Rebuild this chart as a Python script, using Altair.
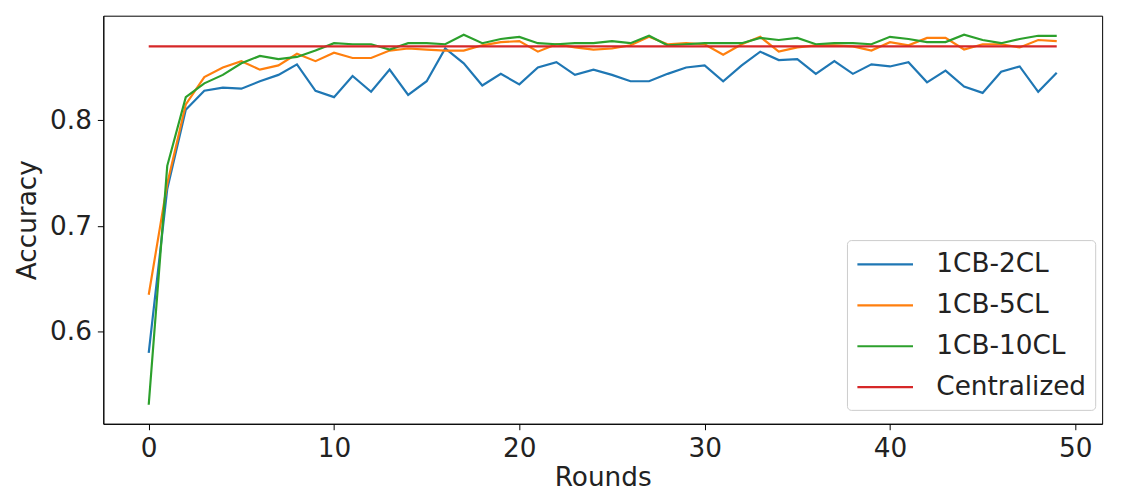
import altair as alt
import pandas as pd

rounds = list(range(50))

cb_2cl = [0.580, 0.735, 0.810, 0.828, 0.831, 0.830, 0.837, 0.843, 0.853, 0.828,
          0.822, 0.842, 0.827, 0.848, 0.824, 0.837, 0.868, 0.854, 0.833, 0.844,
          0.834, 0.850, 0.855, 0.843, 0.848, 0.843, 0.837, 0.837, 0.844, 0.850,
          0.852, 0.837, 0.852, 0.865, 0.857, 0.858, 0.844, 0.856, 0.844, 0.853,
          0.851, 0.855, 0.836, 0.847, 0.832, 0.826, 0.846, 0.851, 0.827, 0.845]

cb_5cl = [0.635, 0.740, 0.815, 0.841, 0.850, 0.856, 0.848, 0.852, 0.863, 0.856,
          0.864, 0.859, 0.859, 0.866, 0.868, 0.867, 0.866, 0.866, 0.871, 0.874,
          0.875, 0.865, 0.872, 0.869, 0.867, 0.868, 0.871, 0.879, 0.872, 0.873,
          0.872, 0.862, 0.872, 0.879, 0.865, 0.869, 0.871, 0.871, 0.870, 0.866,
          0.874, 0.871, 0.878, 0.878, 0.867, 0.872, 0.872, 0.869, 0.876, 0.875]

cb_10cl = [0.531, 0.757, 0.822, 0.835, 0.843, 0.854, 0.861, 0.858, 0.860, 0.866,
           0.873, 0.872, 0.872, 0.867, 0.873, 0.873, 0.872, 0.881, 0.873, 0.877,
           0.879, 0.873, 0.872, 0.873, 0.873, 0.875, 0.873, 0.880, 0.871, 0.872,
           0.873, 0.873, 0.873, 0.878, 0.876, 0.878, 0.872, 0.873, 0.873, 0.872,
           0.879, 0.877, 0.874, 0.874, 0.881, 0.876, 0.873, 0.877, 0.880, 0.880]

centralized_value = 0.870
centralized = [centralized_value for _ in rounds]

series_names = ["1CB-2CL", "1CB-5CL", "1CB-10CL", "Centralized"]
series_colors = ["#1f77b4", "#ff7f0e", "#2ca02c", "#d62728"]
series_values = [cb_2cl, cb_5cl, cb_10cl, centralized]

rows = []
for order, (name, vals) in enumerate(zip(series_names, series_values)):
    for r, v in zip(rounds, vals):
        rows.append({"Rounds": r, "Accuracy": v, "Series": name, "order": order})
df = pd.DataFrame(rows)

FONT = "DejaVu Sans"
FS = 26.5

chart = alt.Chart(df).mark_line(strokeWidth=2.2, clip=True).encode(
    x=alt.X("Rounds:Q",
            scale=alt.Scale(domain=[-2.45, 51.45], nice=False, zero=False),
            axis=alt.Axis(values=[0, 10, 20, 30, 40, 50], title="Rounds",
                          titlePadding=3)),
    y=alt.Y("Accuracy:Q",
            scale=alt.Scale(domain=[0.513, 0.899], nice=False, zero=False),
            axis=alt.Axis(values=[0.6, 0.7, 0.8], format=".1f", title="Accuracy",
                          titlePadding=8)),
    color=alt.Color("Series:N",
                    scale=alt.Scale(domain=series_names, range=series_colors),
                    legend=alt.Legend(title=None, orient="none",
                                      legendX=749, legendY=226,
                                      symbolType="M-2,0L2,0", symbolSize=784,
                                      symbolStrokeWidth=2.2, symbolOffset=14,
                                      labelFontSize=FS, labelFont=FONT,
                                      labelColor="#222", labelOffset=36,
                                      rowPadding=12.2, padding=9,
                                      labelLimit=400,
                                      strokeColor="#cccccc", cornerRadius=4,
                                      fillColor="white")),
    order=alt.Order("order:Q"),
).properties(
    width=1006, height=411,
    autosize=alt.AutoSizeParams(type="none"),
    padding={"left": 96, "top": 6, "right": 19, "bottom": 73},
).configure_view(
    stroke="black", strokeWidth=1
).configure_axis(
    grid=False, domain=True, domainColor="black", tickColor="black",
    tickSize=6, labelFontSize=FS, titleFontSize=FS, labelFont=FONT,
    titleFont=FONT, titleFontWeight="normal", labelColor="#222",
    titleColor="#222", labelPadding=6
)

chart.save("out.html", embed_options={"renderer": "svg", "actions": False})
